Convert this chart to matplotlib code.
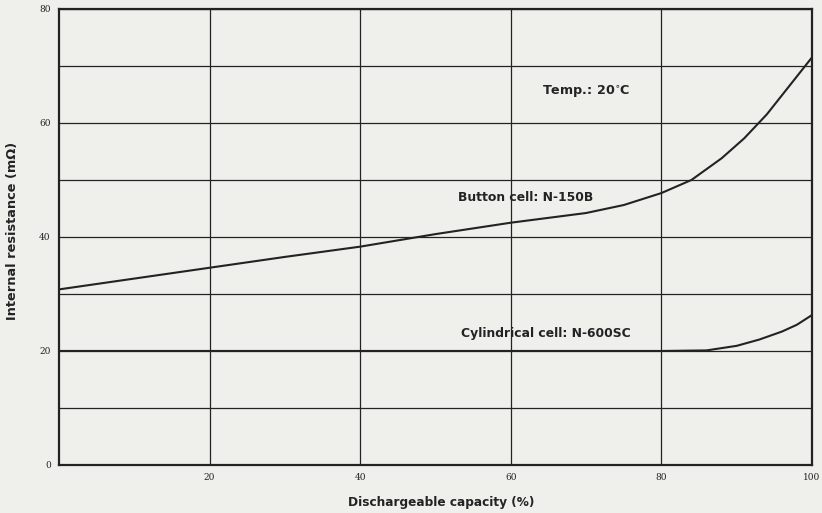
import matplotlib.pyplot as plt

# discharge capacity (%) vs internal resistance (mOhm)
button_x = [0, 10, 20, 30, 40, 50, 60, 70, 75, 80, 84, 88, 91, 94, 97, 100]
button_y = [30.8, 32.7, 34.6, 36.5, 38.3, 40.5, 42.5, 44.2, 45.6, 47.7, 50.0, 53.8, 57.3, 61.5, 66.5, 71.5]

cyl_x = [0, 20, 40, 60, 80, 86, 90, 93, 96, 98, 100]
cyl_y = [20.0, 20.0, 20.0, 20.0, 20.0, 20.1, 20.9, 22.0, 23.4, 24.6, 26.3]

x_ticks = [20, 40, 60, 80, 100]
y_ticks = [0, 10, 20, 30, 40, 50, 60, 70, 80]
y_ticklabels = ['0', '', '20', '', '40', '', '60', '', '80']

ink = '#232323'
paper = '#efefec'

fig = plt.figure(figsize=(8.22, 5.13), dpi=100, facecolor=paper)
ax = fig.add_axes([0.0718, 0.0936, 0.916, 0.889], facecolor=paper)

ax.plot(button_x, button_y, color=ink, lw=1.5, solid_capstyle='butt')
ax.plot(cyl_x, cyl_y, color=ink, lw=1.5, solid_capstyle='butt')

ax.set_xlim(0, 100)
ax.set_ylim(0, 80)
ax.set_xticks(x_ticks)
ax.set_yticks(y_ticks)
ax.set_yticklabels(y_ticklabels)
ax.tick_params(length=0, labelsize=6.5, colors=ink, pad=6)
for lab in ax.get_xticklabels() + ax.get_yticklabels():
    lab.set_family('DejaVu Serif')
ax.grid(True, color=ink, lw=0.9)
ax.set_axisbelow(True)
for s in ax.spines.values():
    s.set_color(ink)
    s.set_linewidth(1.6)

txt = dict(family='DejaVu Sans', fontweight='bold', fontsize=8.9, color=ink,
           ha='center', va='center')
ax.text(62, 47.0, 'Button cell: N-150B', **txt)
ax.text(64.7, 23.0, 'Cylindrical cell: N-600SC', **txt)
ax.text(70, 65.5, 'Temp.: 20$^{\\circ}$C', fontsize=9.2,
        **{k: v for k, v in txt.items() if k != 'fontsize'})

fig.text(0.5365, 0.021, 'Dischargeable capacity (%)', family='DejaVu Sans',
         fontweight='bold', fontsize=8.7, color=ink, ha='center', va='center')
fig.text(0.015, 0.55, 'Internal resistance (m\u03a9)', family='DejaVu Sans',
         fontweight='bold', fontsize=9.3, color=ink, ha='center', va='center',
         rotation=90)

fig.savefig('out.png', dpi=100, facecolor=paper)
